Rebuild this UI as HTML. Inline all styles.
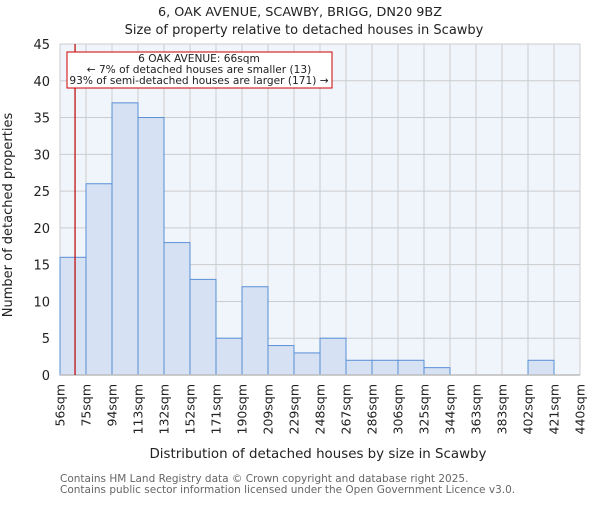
<!DOCTYPE html>
<html><head><meta charset="utf-8"><style>
body{margin:0;background:#fff}
svg{font-family:"DejaVu Sans","Liberation Sans",sans-serif}
</style></head><body>
<svg width="600" height="500" xmlns="http://www.w3.org/2000/svg">
<text x="300" y="16" text-anchor="middle" font-size="12.8" fill="#222">6, OAK AVENUE, SCAWBY, BRIGG, DN20 9BZ</text>
<text x="304" y="34" text-anchor="middle" font-size="13" fill="#222">Size of property relative to detached houses in Scawby</text>
<rect x="60" y="44" width="520" height="331" fill="#f0f4fb"/>
<g id="grid"></g>
<g id="bars"></g>
<g id="yaxis"></g>
<g id="xaxis"></g>
<line id="marker" stroke="#bb0000" stroke-width="1.2"/>
<rect x="67" y="52" width="265" height="36" fill="#fff" stroke="#cc0000" stroke-width="1"/>
<text x="199" y="62" text-anchor="middle" font-size="10.6" fill="#222">6 OAK AVENUE: 66sqm</text>
<text x="199" y="73" text-anchor="middle" font-size="10.6" fill="#222">← 7% of detached houses are smaller (13)</text>
<text x="199" y="84" text-anchor="middle" font-size="10.6" fill="#222">93% of semi-detached houses are larger (171) →</text>
<text x="12" y="215" transform="rotate(-90 12 215)" text-anchor="middle" font-size="13" fill="#222">Number of detached properties</text>
<text x="318" y="458" text-anchor="middle" font-size="13.4" fill="#222">Distribution of detached houses by size in Scawby</text>
<text x="60" y="482" font-size="10.5" fill="#666">Contains HM Land Registry data © Crown copyright and database right 2025.</text>
<text x="60" y="493" font-size="10.5" fill="#666">Contains public sector information licensed under the Open Government Licence v3.0.</text>
</svg>
<script>
const binEdges=[56,75,94,113,132,152,171,190,209,229,248,267,286,306,325,344,363,383,402,421,440];
const tickLabels=["56sqm","75sqm","94sqm","113sqm","132sqm","152sqm","171sqm","190sqm","209sqm","229sqm","248sqm","267sqm","286sqm","306sqm","325sqm","344sqm","363sqm","383sqm","402sqm","421sqm","440sqm"];
const counts=[16,26,37,35,18,13,5,12,4,3,5,2,2,2,1,0,0,0,2,0];
const yTicks=[0,5,10,15,20,25,30,35,40,45];
const markerValue=66;
const NS="http://www.w3.org/2000/svg";
const X0=60,X1=580,Y0=375,Y1=44;
const xIdx=i=>X0+i*(X1-X0)/(tickLabels.length-1);
const xVal=v=>X0+(v-56)/(440-56)*(X1-X0);
const y=v=>Y0-v/45*(Y0-Y1);
function mk(t,a,p){const e=document.createElementNS(NS,t);for(const k in a)e.setAttribute(k,a[k]);p.appendChild(e);return e;}
const grid=document.getElementById('grid'),bars=document.getElementById('bars'),ya=document.getElementById('yaxis'),xa=document.getElementById('xaxis');
yTicks.forEach(t=>{
 const l=mk('line',{x1:X0,x2:X1,y1:y(t),y2:y(t),stroke:'#cccccc'},grid);
 
 
 const tx=mk('text',{x:X0-10,y:y(t)+5,'text-anchor':'end','font-size':'13',fill:'#222'},ya);
 tx.textContent=t;
 
 
});
tickLabels.forEach((lab,i)=>{
 const x=xIdx(i);
 const l=mk('line',{x1:x,x2:x,y1:Y1,y2:Y0,stroke:'#cccccc'},grid);
 
 
 const tx=mk('text',{x:0,y:0,'text-anchor':'end','font-size':'12.5',fill:'#222',transform:`translate(${x+4.5},384) rotate(-90)`},xa);
 tx.textContent=lab;
 
 
});
counts.forEach((c,i)=>{
 if(c<=0)return;
 const r=mk('rect',{x:xIdx(i),y:y(c),width:xIdx(i+1)-xIdx(i),height:Y0-y(c),fill:'#d6e2f3',stroke:'#5a8fd6','stroke-width':'1'},bars);
 
 
});
const ax=mk('line',{x1:X0,x2:X1,y1:Y0,y2:Y0,stroke:'#bbbbbb','stroke-width':'1.5'},xa);


const m=document.getElementById('marker');
const mx=xVal(markerValue)+1.5;
m.setAttribute('x1',mx);m.setAttribute('x2',mx);m.setAttribute('y1',Y1);m.setAttribute('y2',Y0);
</script>
</body></html>
